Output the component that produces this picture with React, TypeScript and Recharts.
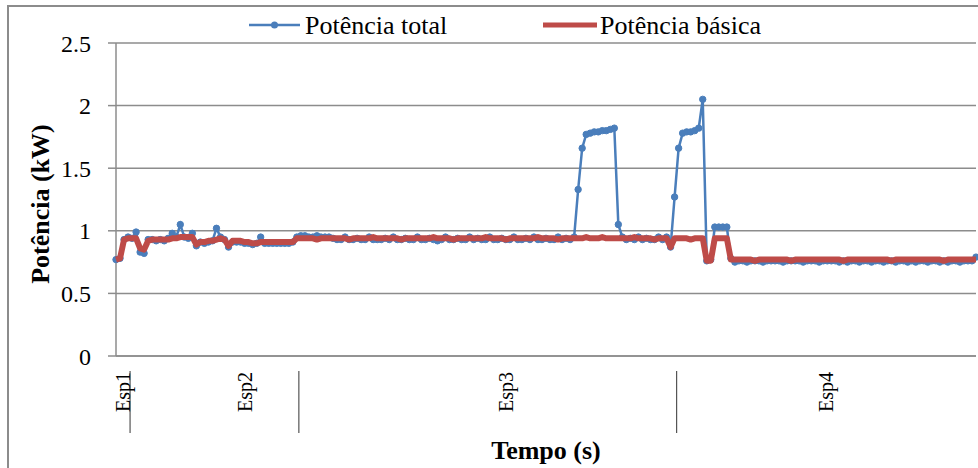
import { CartesianGrid, Legend, Line, LineChart, XAxis, YAxis } from "recharts";

const FONT = '"Liberation Serif", "Times New Roman", serif';
const BLUE = "#4a7ebb";
const RED = "#be4b48";
const GRID = "#8c8c8c";

const GROUPS = ["Esp1", "Esp2", "Esp3", "Esp4"];
// where each group name sits along the axis (sample index units)
const GROUP_LABEL_AT = [1.75, 32, 97, 176.7];

const Y_TICKS = [0, 0.5, 1, 1.5, 2, 2.5];

// Potência total (kW), one array per test
const esp1Total = [0.77, 0.78, 0.93, 0.95];
const esp2Total = [
  0.94, 0.99, 0.83, 0.82, 0.93, 0.93, 0.92, 0.93, 0.92, 0.94,
  0.98, 0.95, 1.05, 0.95, 0.94, 0.98, 0.88, 0.91, 0.9, 0.91,
  0.92, 1.02, 0.95, 0.93, 0.87, 0.91, 0.91, 0.91, 0.9, 0.9,
  0.89, 0.9, 0.95, 0.9, 0.9, 0.9, 0.9, 0.9, 0.9, 0.9,
  0.91, 0.95,
];
const esp3Total = [
  0.96, 0.96, 0.95, 0.95, 0.96, 0.95, 0.95, 0.95, 0.94, 0.93,
  0.93, 0.95, 0.93, 0.93, 0.94, 0.93, 0.93, 0.95, 0.93, 0.93,
  0.93, 0.94, 0.93, 0.95, 0.93, 0.93, 0.94, 0.93, 0.93, 0.95,
  0.93, 0.93, 0.94, 0.93, 0.92, 0.93, 0.95, 0.93, 0.93, 0.94,
  0.93, 0.93, 0.95, 0.93, 0.94, 0.93, 0.93, 0.95, 0.93, 0.93,
  0.94, 0.93, 0.93, 0.95, 0.93, 0.93, 0.94, 0.93, 0.95, 0.93,
  0.93, 0.94, 0.93, 0.93, 0.95, 0.93, 0.94, 0.93, 0.95,
  1.33, 1.66, 1.77, 1.78, 1.79, 1.79, 1.8, 1.8, 1.81, 1.82,
  1.05,
  0.95, 0.93, 0.94, 0.93, 0.95, 0.93, 0.94, 0.93, 0.93, 0.95, 0.93, 0.95,
  0.87, 1.27,
];
const esp4Total = [
  1.66, 1.78, 1.79, 1.79, 1.8, 1.82, 2.05, 0.76, 0.77, 1.03,
  1.03, 1.03, 1.03, 0.78,
  0.75, 0.76, 0.76, 0.75, 0.76, 0.76, 0.76, 0.75, 0.76, 0.76,
  0.76, 0.76, 0.75, 0.76, 0.76, 0.76, 0.76, 0.75, 0.76, 0.76,
  0.76, 0.75, 0.76, 0.76, 0.76, 0.76, 0.75, 0.76, 0.75, 0.76,
  0.76, 0.75, 0.76, 0.76, 0.75, 0.76, 0.76, 0.75, 0.76, 0.76,
  0.75, 0.76, 0.76, 0.75, 0.76, 0.75, 0.76, 0.76, 0.75, 0.76,
  0.76, 0.75, 0.76, 0.75, 0.76, 0.76, 0.75, 0.76, 0.76, 0.76,
  0.79,
];

// Potência básica (kW)
const esp1Basic = [0.77, 0.78, 0.93, 0.94];
const esp2Basic = [
  0.94, 0.94, 0.86, 0.85, 0.92, 0.93, 0.93, 0.93, 0.93, 0.93,
  0.94, 0.94, 0.95, 0.95, 0.95, 0.95, 0.89, 0.91, 0.91, 0.92,
  0.92, 0.93, 0.94, 0.93, 0.88, 0.92, 0.92, 0.92, 0.91, 0.91,
  0.9, 0.9, 0.91, 0.91, 0.91, 0.91, 0.91, 0.91, 0.91, 0.91,
  0.91, 0.94,
];
const esp3Basic = [
  0.94, 0.94, 0.94, 0.94, 0.93, 0.94, 0.94, 0.94, 0.94, 0.94,
  0.94, 0.94, 0.93, 0.94, 0.94, 0.94, 0.94, 0.94, 0.95, 0.94,
  0.94, 0.94, 0.94, 0.94, 0.94, 0.93, 0.94, 0.94, 0.94, 0.94,
  0.94, 0.94, 0.94, 0.95, 0.94, 0.94, 0.94, 0.94, 0.93, 0.94,
  0.94, 0.94, 0.94, 0.94, 0.94, 0.94, 0.95, 0.94, 0.94, 0.94,
  0.94, 0.93, 0.94, 0.94, 0.94, 0.94, 0.94, 0.94, 0.94, 0.95,
  0.94, 0.94, 0.94, 0.94, 0.93, 0.94, 0.94, 0.94, 0.94,
  0.94, 0.94, 0.95, 0.94, 0.94, 0.94, 0.95, 0.94, 0.94, 0.94,
  0.94,
  0.94, 0.94, 0.94, 0.95, 0.94, 0.94, 0.94, 0.94, 0.93, 0.94, 0.94, 0.94,
  0.87, 0.94,
];
const esp4Basic = [
  0.94, 0.94, 0.94, 0.93, 0.94, 0.94, 0.94, 0.76, 0.76, 0.94,
  0.94, 0.94, 0.94, 0.77,
  0.77, 0.77, 0.77, 0.77, 0.77, 0.76, 0.77, 0.77, 0.77, 0.77,
  0.77, 0.77, 0.77, 0.77, 0.76, 0.77, 0.77, 0.77, 0.77, 0.77,
  0.77, 0.77, 0.77, 0.77, 0.77, 0.77, 0.77, 0.76, 0.77, 0.77,
  0.77, 0.77, 0.77, 0.77, 0.77, 0.77, 0.77, 0.77, 0.77, 0.76,
  0.77, 0.77, 0.77, 0.77, 0.77, 0.77, 0.77, 0.77, 0.77, 0.77,
  0.77, 0.77, 0.76, 0.77, 0.77, 0.77, 0.77, 0.77, 0.77, 0.77,
  0.77,
];

const totals = [esp1Total, esp2Total, esp3Total, esp4Total].flat();
const basics = [esp1Basic, esp2Basic, esp3Basic, esp4Basic].flat();
const data = totals.map((v, i) => ({ idx: i, total: v, basic: basics[i] }));
const X_DOMAIN = [0, data.length - 1];

// separators sit half a step after the last sample of each group
const sizes = [esp1Total, esp2Total, esp3Total, esp4Total].map((a) => a.length);
const BOUNDARIES: number[] = [];
let acc = 0;
for (let k = 0; k < sizes.length - 1; k++) {
  acc += sizes[k];
  BOUNDARIES.push(acc - 0.5);
}

const W = 978;
const H = 468;
const PLOT = { top: 43, left: 116, right: 2, bottom: 112 };

function GroupTick(props: any) {
  const { x, y, payload } = props;
  const v = payload.value;
  if (BOUNDARIES.includes(v)) {
    return <line x1={x} x2={x} y1={y + 15} y2={y + 77} stroke="#555" strokeWidth={1.2} />;
  }
  const g = GROUP_LABEL_AT.indexOf(v);
  if (g < 0) return null;
  const ty = y + 16;
  return (
    <text
      x={x}
      y={ty}
      transform={`rotate(-90 ${x} ${ty})`}
      textAnchor="end"
      dominantBaseline="central"
      fontFamily={FONT}
      fontSize={20}
      fill="#000"
    >
      {GROUPS[g]}
    </text>
  );
}

function YTitle() {
  return (
    <text
      x={40}
      y={204}
      transform="rotate(-90 40 204)"
      textAnchor="middle"
      dominantBaseline="central"
      fontFamily={FONT}
      fontWeight="bold"
      fontSize={26}
      fill="#000"
    >
      Potência (kW)
    </text>
  );
}

function XTitle() {
  return (
    <text x={546} y={459} textAnchor="middle" fontFamily={FONT} fontWeight="bold" fontSize={26} fill="#000">
      Tempo (s)
    </text>
  );
}

function LegendBox() {
  const txt = { position: "absolute", top: 0, lineHeight: "35px", fontFamily: FONT, fontSize: 26, color: "#000", whiteSpace: "nowrap" } as const;
  return (
    <div style={{ position: "relative", width: W, height: 35 }}>
      <svg style={{ position: "absolute", left: 0, top: 0 }} width={W} height={35}>
        <line x1={249} x2={300} y1={17} y2={17} stroke={BLUE} strokeWidth={2.5} />
        <circle cx={274.5} cy={17} r={3.5} fill={BLUE} />
        <line x1={543} x2={597} y1={17} y2={17} stroke={RED} strokeWidth={5} />
      </svg>
      <span style={{ ...txt, left: 305 }}>Potência total</span>
      <span style={{ ...txt, left: 600 }}>Potência básica</span>
    </div>
  );
}

export default function App() {
  return (
    <div style={{ position: "absolute", left: 0, top: 0, width: W, height: H, overflow: "hidden", background: "#fff" }}>
      <div
        style={{
          position: "absolute",
          left: 7,
          top: 5,
          width: 990,
          height: 480,
          border: `2px solid ${GRID}`,
          boxSizing: "border-box",
        }}
      />
      {/* base chart: axes, grid, legend and Potência total */}
      <div style={{ position: "absolute", left: 0, top: 0 }}>
        <LineChart width={W} height={H} data={data} margin={{ top: 8, right: PLOT.right, bottom: 0, left: 8 }}>
          <Legend
            verticalAlign="top"
            height={35}
            wrapperStyle={{ top: 8, left: 0, width: W, height: 35 }}
            content={() => <LegendBox />}
          />
          <CartesianGrid vertical={false} stroke={GRID} strokeWidth={1.5} />
          <XAxis
            dataKey="idx"
            type="number"
            domain={X_DOMAIN}
            ticks={[...BOUNDARIES, ...GROUP_LABEL_AT]}
            interval={0}
            height={PLOT.bottom}
            tickLine={false}
            tickSize={0}
            tickMargin={0}
            axisLine={{ stroke: GRID, strokeWidth: 1.5 }}
            tick={<GroupTick />}
            label={<XTitle />}
          />
          <YAxis
            domain={[0, 2.5]}
            ticks={Y_TICKS}
            width={PLOT.left - 8}
            tickSize={8}
            tickMargin={17}
            axisLine={{ stroke: GRID, strokeWidth: 1.5 }}
            tickLine={{ stroke: GRID, strokeWidth: 1.5 }}
            tick={{ fontFamily: FONT, fontSize: 24, fill: "#000" }}
            label={<YTitle />}
          />
          <Line
            dataKey="total"
            stroke={BLUE}
            strokeWidth={2.5}
            dot={{ r: 3.2, fill: BLUE, stroke: BLUE, strokeWidth: 1 }}
            isAnimationActive={false}
          />
        </LineChart>
      </div>
      {/* Potência básica drawn over the blue markers, same plot box */}
      <div style={{ position: "absolute", left: 0, top: 0, pointerEvents: "none" }}>
        <LineChart width={W} height={H} data={data} margin={PLOT}>
          <XAxis dataKey="idx" type="number" domain={X_DOMAIN} hide />
          <YAxis domain={[0, 2.5]} hide />
          <Line
            dataKey="basic"
            stroke={RED}
            strokeWidth={6}
            strokeLinejoin="round"
            dot={false}
            isAnimationActive={false}
          />
        </LineChart>
      </div>
    </div>
  );
}
